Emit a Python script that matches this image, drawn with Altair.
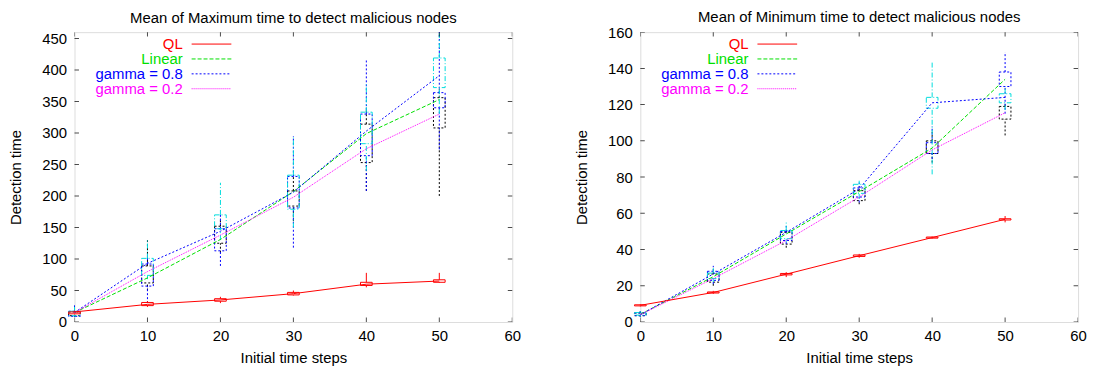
import altair as alt
import pandas as pd

FONT = "Liberation Sans"

# ---------------- data ----------------
X = [0, 10, 20, 30, 40, 50]
X_TICKS = [0, 10, 20, 30, 40, 50, 60]
MAX_Y_TICKS = [0, 50, 100, 150, 200, 250, 300, 350, 400, 450]
MIN_Y_TICKS = [0, 20, 40, 60, 80, 100, 120, 140, 160]

SERIES_NAMES = ["QL", "Linear", "gamma = 0.8", "gamma = 0.2"]

# Mean of maximum detection time
MAX_QL = [16, 28, 35, 45, 60, 65]
MAX_LINEAR = [15, 70, 131, 207, 299, 353]
MAX_G08 = [15, 93, 144, 206, 303, 391]
MAX_G02 = [15, 80, 138, 198, 275, 330]

# boxes: (whisker low, box low, box high, whisker high)
MAX_BOX_QL = [(12, 13, 16, 18), (24, 26, 31, 33), (30, 33, 37, 40),
              (42, 43, 47, 50), (55, 58, 63, 78), (62, 63, 67, 78)]
MAX_BOX_BLACK = [(8, 10, 16, 22), (50, 62, 89, 131), (110, 125, 152, 165),
                 (160, 184, 208, 230), (208, 253, 314, 340), (200, 308, 356, 370)]
MAX_BOX_BLUE = [(8, 9, 17, 28), (30, 57, 92, 110), (89, 113, 148, 170),
                (118, 181, 231, 295), (208, 264, 330, 415), (274, 340, 364, 460)]
MAX_BOX_CYAN = [(9, 10, 17, 24), (68, 74, 101, 131), (130, 148, 170, 221),
                (150, 179, 233, 295), (240, 283, 333, 380), (330, 372, 419, 460)]

# Mean of minimum detection time
MIN_QL = [9.2, 16.3, 26.4, 36.6, 46.6, 56.7]
MIN_LINEAR = [4.2, 25, 48.6, 72, 96, 134]
MIN_G08 = [4, 26.5, 49.5, 73.5, 121, 124]
MIN_G02 = [4, 24, 45, 69, 95, 115.5]

MIN_BOX_QL = [(8.6, 8.9, 9.5, 9.8), (15.5, 16.0, 16.6, 17.2), (24.8, 26.0, 26.8, 27.5),
              (35.5, 36.2, 37.0, 37.6), (46.0, 46.3, 46.9, 47.2), (55.0, 56.3, 57.0, 58.5)]
MIN_BOX_BLACK = [(3, 3.5, 5, 6), (20, 22, 26.5, 29), (41, 43, 49.5, 51),
                 (65, 67, 72.5, 75), (88, 93, 100, 105), (103, 112, 119, 121)]
MIN_BOX_BLUE = [(3, 3.5, 5, 6), (21, 23, 28, 31), (43, 45, 50, 53),
                (66, 69, 74, 77), (90, 93, 99, 108), (115, 130, 138, 149)]
MIN_BOX_CYAN = [(3, 3.8, 5.2, 6), (22, 24, 27, 30), (44, 46, 50.5, 55),
                (68, 71, 76, 78), (81.5, 118, 124, 144), (117, 121, 126, 130)]

# ---------------- styles ----------------
RED = "#ff0000"
GREEN = "#00e000"
BLUE = "#0000ff"
MAGENTA = "#ff00ff"
CYAN = "#00dddd"
BLACK = "#000000"

LINE_STYLES = [(RED, None), (GREEN, [4, 2]), (BLUE, [2, 2]), (MAGENTA, [1, 1])]
BOX_STYLES = [(BLACK, [2, 2]), (BLUE, [2, 2]), (CYAN, [5, 2, 1, 2]), (RED, None)]
BOX_HALF = 0.8

LEG_TEXT_X = 109
LEG_LINE_X0 = 118
LEG_LINE_X1 = 158
LEG_Y0 = 12
LEG_DY = 15

W, H = 441, 292


def panel(title, ymax, yticks, lines, boxes, title_offset):
    xs = alt.Scale(domain=[0, 60], nice=False, zero=False)
    ys = alt.Scale(domain=[0, ymax], nice=False, zero=False)
    xaxis = alt.Axis(values=X_TICKS, title="Initial time steps", ticks=False, domain=False,
                     grid=False, labelFlush=False, labelOverlap=False, labelPadding=7,
                     titlePadding=7, format="d", labelFont=FONT, labelFontSize=15,
                     titleFont=FONT, titleFontSize=15, titleFontWeight="normal",
                     labelColor="black", titleColor="black")
    yaxis = alt.Axis(values=yticks, title="Detection time", ticks=False, domain=False,
                     grid=False, labelFlush=False, labelOverlap=False, labelPadding=8,
                     titlePadding=18, format="d", labelFont=FONT, labelFontSize=15,
                     titleFont=FONT, titleFontSize=15, titleFontWeight="normal",
                     labelColor="black", titleColor="black")

    def XQ(f):
        return alt.X(f, type="quantitative", scale=xs, axis=xaxis)

    def YQ(f):
        return alt.Y(f, type="quantitative", scale=ys, axis=yaxis)

    layers = []

    # boxes (candlesticks)
    for box, (color, dash) in zip(boxes, BOX_STYLES):
        df = pd.DataFrame({
            "x": X,
            "lo": [b[0] for b in box],
            "q1": [b[1] for b in box],
            "q3": [b[2] for b in box],
            "hi": [b[3] for b in box],
        })
        kw = dict(color=color, strokeWidth=1)
        if dash:
            kw["strokeDash"] = dash
        base = alt.Chart(df).transform_calculate(
            x0=f"datum.x - {BOX_HALF}", x1=f"datum.x + {BOX_HALF}")
        rect = base.mark_rect(fillOpacity=0, stroke=color, strokeWidth=1,
                              **({"strokeDash": dash} if dash else {})).encode(
            x=XQ("x0"), x2=alt.X2("x1:Q"), y=YQ("q1"), y2=alt.Y2("q3:Q"))
        w1 = base.mark_rule(**kw).encode(x=XQ("x"), y=YQ("lo"), y2=alt.Y2("q1:Q"))
        w2 = base.mark_rule(**kw).encode(x=XQ("x"), y=YQ("q3"), y2=alt.Y2("hi:Q"))
        layers += [rect, w1, w2]

    # series lines (QL drawn last)
    order = [1, 2, 3, 0]
    for i in order:
        color, dash = LINE_STYLES[i]
        df = pd.DataFrame({"x": X, "y": lines[i]})
        kw = dict(color=color, strokeWidth=1)
        if dash:
            kw["strokeDash"] = dash
        layers.append(alt.Chart(df).mark_line(**kw).encode(x=XQ("x"), y=YQ("y")))

    # inward tick marks on all four sides
    tx = pd.DataFrame({"t": X_TICKS})
    ty = pd.DataFrame({"t": yticks})
    for yv in (0, ymax):
        layers.append(alt.Chart(tx).mark_tick(orient="vertical", size=9, thickness=1,
                                              color=BLACK, clip=True).encode(
            x=XQ("t"), y=alt.YDatum(yv, scale=ys, axis=yaxis)))
    for xv in (0, 60):
        layers.append(alt.Chart(ty).mark_tick(orient="horizontal", size=9, thickness=1,
                                              color=BLACK, clip=True).encode(
            y=YQ("t"), x=alt.XDatum(xv, scale=xs, axis=xaxis)))

    # legend (gnuplot style: label then line sample)
    for i, name in enumerate(SERIES_NAMES):
        color, dash = LINE_STYLES[i]
        ldf = pd.DataFrame({"label": [name]})
        ly = LEG_Y0 + i * LEG_DY
        layers.append(alt.Chart(ldf).mark_text(align="right", baseline="middle", font=FONT,
                                               fontSize=15, color=color).encode(
            text="label:N", x=alt.value(LEG_TEXT_X), y=alt.value(ly)))
        kw = dict(color=color, strokeWidth=1)
        if dash:
            kw["strokeDash"] = dash
        layers.append(alt.Chart(ldf).mark_rule(**kw).encode(
            x=alt.value(LEG_LINE_X0), x2=alt.value(LEG_LINE_X1), y=alt.value(ly)))

    return alt.layer(*layers).properties(
        width=W, height=H,
        title=alt.TitleParams(title, font=FONT, fontSize=15, fontWeight="normal",
                              anchor="middle", offset=title_offset, frame="group",
                              color="black"))


left = panel("Mean of Maximum time to detect malicious nodes", 460, MAX_Y_TICKS,
             [MAX_QL, MAX_LINEAR, MAX_G08, MAX_G02],
             [MAX_BOX_BLACK, MAX_BOX_BLUE, MAX_BOX_CYAN, MAX_BOX_QL], 6)
right = panel("Mean of Minimum time to detect malicious nodes", 160, MIN_Y_TICKS,
              [MIN_QL, MIN_LINEAR, MIN_G08, MIN_G02],
              [MIN_BOX_BLACK, MIN_BOX_BLUE, MIN_BOX_CYAN, MIN_BOX_QL], 0)

chart = alt.hconcat(left, right, spacing=53).properties(
    padding={"left": 0, "top": 0, "right": 0, "bottom": 0}
).configure_view(stroke="black", strokeWidth=1).configure(background="white")

chart.save("out.html", embed_options={"renderer": "svg", "actions": False})
